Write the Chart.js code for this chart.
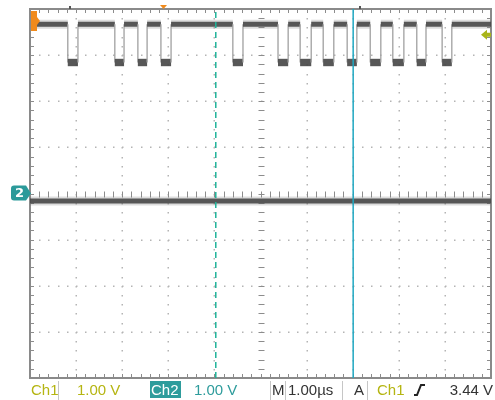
<!DOCTYPE html>
<html>
<head>
<meta charset="utf-8">
<title>Scope capture</title>
<script src="https://cdn.jsdelivr.net/npm/chart.js@4.4.0/dist/chart.umd.min.js"></script>
<style>
  html, body { margin: 0; padding: 0; background: #fff; }
  #wrap { width: 495px; height: 400px; }
</style>
</head>
<body>
<div id="wrap"><canvas id="scopeChart" width="495" height="400"></canvas></div>
<script>
// Ch1 levels in volts, pulse edges in µs
const ch1High = 3.67;
const ch1Low = 2.84;
const fallTimes = [0.82, 1.84, 2.34, 2.84, 4.40, 5.38, 5.86, 6.36, 6.88, 7.38, 7.87, 8.39, 8.94];
const riseTimes = [1.04, 2.04, 2.54, 3.06, 4.62, 5.60, 6.10, 6.59, 7.09, 7.61, 8.11, 8.59, 9.15];

// Ch2 is flat across the record
const ch2Times = [0, 10];
const ch2Levels = [-0.16, -0.16];

// cursor positions (µs) and trigger level (V)
const cursorTimes = [4.03, 7.01];
const triggerLevel = 3.44;

// readout text
const ch1Label = 'Ch1';
const ch1Scale = '1.00 V';
const ch2Label = 'Ch2';
const ch2Scale = '1.00 V';
const timeScale = '1.00µs';
const trigSource = 'Ch1';
const trigText = '3.44 V';

// build the ch1 trace from the edge lists
const ch1Points = [{ x: 0.07, y: ch1High }];
fallTimes.forEach((f, i) => {
    const r = riseTimes[i];
    ch1Points.push(
        { x: f, y: ch1High },
        { x: f, y: ch1Low },
        { x: r, y: ch1Low },
        { x: r, y: ch1High }
    );
});
ch1Points.push({ x: 10, y: ch1High });

const ch2Points = ch2Times.map((t, i) => ({ x: t, y: ch2Levels[i] }));

const isEdge = ctx => ctx.p0.parsed.x === ctx.p1.parsed.x;

// thin light edges, a noisy band on the flat parts (wider while low: ringing)
const traceStyle = {
    borderWidth: ctx => isEdge(ctx) ? 1.3 : (ctx.p0.parsed.y < 3.2 ? 7 : undefined),
    borderColor: ctx => isEdge(ctx) ? '#a0a0a0' : undefined
};
const hazeStyle = {
    borderColor: ctx => isEdge(ctx) ? 'rgba(0, 0, 0, 0)' : undefined
};

const cursorSet = (t, dash, color) => ({
    data: [{ x: t, y: -4 }, { x: t, y: 4 }],
    borderColor: color,
    borderWidth: 1.5,
    borderDash: dash,
    pointRadius: 0,
    showLine: true
});

const traceSet = (label, points, width, color, segment) => ({
    label: label,
    data: points,
    borderColor: color,
    borderWidth: width,
    borderCapStyle: 'butt',
    pointRadius: 0,
    showLine: true,
    segment: segment
});

// graticule: dotted divisions, ticked centre cross and frame
const scopeGrid = {
    id: 'scopeGrid',
    beforeDatasetsDraw(chart) {
        const { ctx, chartArea: a, scales: { x, y } } = chart;
        const dx = (a.right - a.left) / 50;
        const dy = (a.bottom - a.top) / 40;
        ctx.save();
        ctx.fillStyle = '#b4b4b4';
        for (let i = 1; i < 10; i++) {
            const px = Math.round(x.getPixelForValue(i));
            if (i === 5) continue;
            for (let j = 1; j < 40; j++) ctx.fillRect(px - 0.5, Math.round(a.top + j * dy), 1.5, 1.5);
        }
        for (let k = 1; k < 8; k++) {
            const py = Math.round(y.getPixelForValue(k - 4));
            if (k === 4) continue;
            for (let j = 1; j < 50; j++) ctx.fillRect(Math.round(a.left + j * dx), py - 0.5, 1.5, 1.5);
        }
        ctx.strokeStyle = '#8c8c8c';
        ctx.lineWidth = 1;
        const cx = Math.round(x.getPixelForValue(5)) + 0.5;
        const cy = Math.round(y.getPixelForValue(0)) + 0.5;
        ctx.beginPath();
        for (let j = 1; j < 40; j++) {
            const py = Math.round(a.top + j * dy) + 0.5;
            ctx.moveTo(cx - 3, py); ctx.lineTo(cx + 3, py);
            ctx.moveTo(a.left, py); ctx.lineTo(a.left + 4, py);
            ctx.moveTo(a.right - 4, py); ctx.lineTo(a.right, py);
        }
        for (let j = 1; j < 50; j++) {
            const px = Math.round(a.left + j * dx) + 0.5;
            ctx.moveTo(px, cy - 3); ctx.lineTo(px, cy + 3);
            ctx.moveTo(px, a.top); ctx.lineTo(px, a.top + 4);
            ctx.moveTo(px, a.bottom - 4); ctx.lineTo(px, a.bottom);
        }
        ctx.stroke();
        ctx.strokeStyle = '#8a8a8a';
        ctx.lineWidth = 2;
        ctx.strokeRect(a.left, a.top, a.right - a.left, a.bottom - a.top);
        ctx.restore();
    }
};

// channel markers, trigger arrow and the readout line
const scopeReadout = {
    id: 'scopeReadout',
    afterDraw(chart) {
        const { ctx, scales: { y } } = chart;
        ctx.save();

        // ch1 reference tab
        ctx.fillStyle = '#f08a1c';
        ctx.beginPath();
        ctx.moveTo(31, 11); ctx.lineTo(37, 11); ctx.lineTo(37, 17); ctx.lineTo(40, 21);
        ctx.lineTo(37, 25); ctx.lineTo(37, 31); ctx.lineTo(31, 31); ctx.closePath();
        ctx.fill();
        // trigger position mark
        ctx.beginPath();
        ctx.moveTo(160, 5); ctx.lineTo(167, 5); ctx.lineTo(163.5, 9); ctx.closePath();
        ctx.fill();
        ctx.fillStyle = '#555';
        ctx.fillRect(69, 6, 2, 3);
        ctx.fillRect(359, 6, 2, 3);

        // ch2 ground tab
        const g2 = y.getPixelForValue(0);
        ctx.fillStyle = '#2b9a9a';
        ctx.beginPath();
        ctx.moveTo(14, g2 - 8); ctx.lineTo(26, g2 - 8); ctx.lineTo(31, g2);
        ctx.lineTo(26, g2 + 7); ctx.lineTo(14, g2 + 7);
        ctx.quadraticCurveTo(11, g2 + 7, 11, g2 + 4); ctx.lineTo(11, g2 - 5);
        ctx.quadraticCurveTo(11, g2 - 8, 14, g2 - 8); ctx.closePath();
        ctx.fill();
        ctx.fillStyle = '#fff';
        ctx.font = 'bold 13px "DejaVu Sans"';
        ctx.textAlign = 'center';
        ctx.textBaseline = 'middle';
        ctx.fillText('2', 19.5, g2);

        // trigger level arrow
        const ty = y.getPixelForValue(triggerLevel);
        ctx.fillStyle = '#a9b51a';
        ctx.beginPath();
        ctx.moveTo(481, ty); ctx.lineTo(487, ty - 5); ctx.lineTo(487, ty - 2); ctx.lineTo(491, ty - 2);
        ctx.lineTo(491, ty + 2); ctx.lineTo(487, ty + 2); ctx.lineTo(487, ty + 5); ctx.closePath();
        ctx.fill();

        // readout
        const base = 395;
        ctx.textAlign = 'left';
        ctx.textBaseline = 'alphabetic';
        ctx.font = '15px "Liberation Sans"';
        ctx.strokeStyle = '#c6c6c6';
        ctx.lineWidth = 1;
        ctx.beginPath();
        [58.5, 270.5, 285.5, 342.5, 367.5].forEach(sx => { ctx.moveTo(sx, 381); ctx.lineTo(sx, 400); });
        ctx.stroke();

        ctx.fillStyle = '#b5b512';
        ctx.fillText(ch1Label, 31, base);
        ctx.fillText(ch1Scale, 77, base);

        ctx.fillStyle = '#2e9c9c';
        ctx.fillRect(150, 381, 31, 17);
        ctx.fillStyle = '#fff';
        ctx.fillText(ch2Label, 151, base);
        ctx.fillStyle = '#2e9c9c';
        ctx.fillText(ch2Scale, 194, base);

        ctx.fillStyle = '#333';
        ctx.fillText('M', 272, base);
        ctx.fillText(timeScale, 288, base);
        ctx.fillText('A', 354, base);
        ctx.fillStyle = '#b5b512';
        ctx.fillText(trigSource, 377, base);
        ctx.fillStyle = '#333';
        ctx.textAlign = 'right';
        ctx.fillText(trigText, 493, base);

        // rising edge symbol
        ctx.strokeStyle = '#222';
        ctx.lineWidth = 2;
        ctx.beginPath();
        ctx.moveTo(414, 395); ctx.lineTo(417, 395); ctx.lineTo(421, 385); ctx.lineTo(425, 385);
        ctx.stroke();
        ctx.restore();
    }
};

new Chart(document.getElementById('scopeChart'), {
    type: 'scatter',
    data: {
        datasets: [
            cursorSet(cursorTimes[0], [6, 4], '#1fb39a'),
            cursorSet(cursorTimes[1], [], '#1fa8c2'),
            traceSet('Ch1', ch1Points, 5, 'rgba(72, 72, 72, 0.9)', traceStyle),
            traceSet('Ch2', ch2Points, 5, 'rgba(72, 72, 72, 0.9)'),
            traceSet('Ch1 haze', ch1Points, 9, 'rgba(120, 120, 120, 0.25)', hazeStyle),
            traceSet('Ch2 haze', ch2Points, 9, 'rgba(120, 120, 120, 0.25)')
        ]
    },
    options: {
        responsive: false,
        animation: false,
        layout: { padding: { left: 30, top: 9, right: 4, bottom: 22 } },
        plugins: { legend: { display: false }, tooltip: { enabled: false } },
        scales: {
            x: { type: 'linear', min: 0, max: 10, display: false },
            y: { type: 'linear', min: -4, max: 4, display: false }
        }
    },
    plugins: [scopeGrid, scopeReadout]
});
</script>
</body>
</html>
